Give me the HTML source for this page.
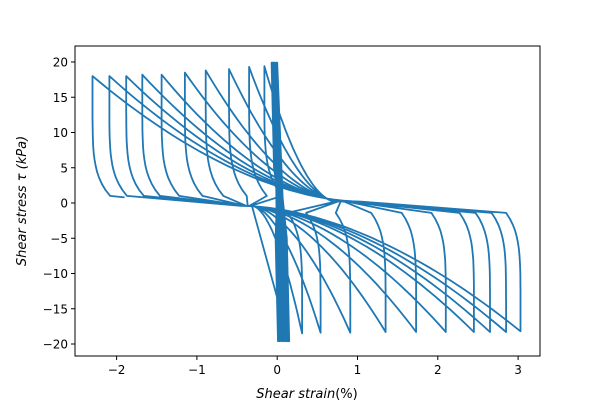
<!DOCTYPE html>
<html><head><meta charset="utf-8"><style>
body{margin:0;background:#fff;}
svg{display:block;font-family:"DejaVu Sans","Liberation Sans",sans-serif;}
</style></head><body>
<svg id="chart" width="600" height="400">
<rect x="0" y="0" width="600" height="400" fill="#fff"/>
<g id="plot"></g>
<g id="axes"></g>
</svg>
<script>
// Data
const peakStrains = [-0.16,-0.35,-0.60,-0.89,-1.15,-1.44,-1.68,-1.88,-2.09,-2.30];
const peakStress = [19.4,19.3,19.0,18.8,18.5,18.2,18.2,18.0,18.0,18.0];
const troughStrains = [0.31,0.54,0.91,1.35,1.73,2.10,2.45,2.65,2.85,3.03];
const troughStress = [-18.5,-18.4,-18.4,-18.3,-18.3,-18.3,-18.3,-18.3,-18.3,-18.2];
const coreTop = [-0.02,-0.03,-0.04,-0.05,-0.06,-0.07,-0.05,-0.03,-0.01,0.0];
const coreBottom = [0.01,0.03,0.05,0.07,0.09,0.11,0.12,0.13,0.14,0.15];
const xTicks = [-2,-1,0,1,2,3];
const yTicks = [20,15,10,5,0,-5,-10,-15,-20];

const X0=75, X1=540, Y0=46, Y1=356;
function sx(v){return 277.2+v*80.3;}
function sy(v){return 203-v*7.05;}

const pts=[];
function add(x,y){pts.push([x,y]);}
// early small cycles (central band)
for(let i=0;i<coreTop.length;i++){
  add(coreTop[i],19.9);
  add(coreTop[i]+0.03,5);
  add(coreBottom[i]-0.03,-5);
  add(coreBottom[i],-19.6);
}
function dropFromPeak(a,P){
  for(let k=0;k<=20;k++){const t=k/20;const y=P-(P-1)*t;add(a+0.22*Math.pow(t,6),y);}
}
function diagToTrough(b,T){
  const xs=-0.3-0.05*b, ys=-0.4;
  for(let k=0;k<=30;k++){const t=k/30;add(xs+(b-xs)*t, ys+(T-ys)*Math.pow(t,1.8));}
}
function riseFromTrough(b,T){
  for(let k=0;k<=20;k++){const t=k/20;const y=T+(-1.4-T)*t;add(b-0.18*Math.pow(t,6),y);}
}
function diagToPeak(a,P){
  const xe=0.7+0.15*Math.abs(a), ye=0.2;
  for(let k=0;k<=30;k++){const t=k/30;add(xe+(a-xe)*t, ye+(P-ye)*Math.pow(t,1.8));}
}
// main cycles: trough then peak
for(let i=0;i<troughStrains.length;i++){
  diagToTrough(troughStrains[i],troughStress[i]);
  riseFromTrough(troughStrains[i],troughStress[i]);
  diagToPeak(peakStrains[i],peakStress[i]);
  dropFromPeak(peakStrains[i],peakStress[i]);
  if(i===troughStrains.length-1){add(-1.9,0.8);}
}
const plot=document.getElementById('plot');
const line=document.createElementNS('http://www.w3.org/2000/svg','polyline');
line.setAttribute('points',pts.map(p=>sx(p[0]).toFixed(1)+','+sy(p[1]).toFixed(1)).join(' '));
line.setAttribute('fill','none');line.setAttribute('stroke','#1f77b4');line.setAttribute('stroke-width','1.8');
line.setAttribute('stroke-linejoin','round');


plot.appendChild(line);
const ax=document.getElementById('axes');
const NS='http://www.w3.org/2000/svg';
const frame=document.createElementNS(NS,'rect');
frame.setAttribute('x',X0);frame.setAttribute('y',Y0);frame.setAttribute('width',X1-X0);frame.setAttribute('height',Y1-Y0);
frame.setAttribute('fill','none');frame.setAttribute('stroke','#000');frame.setAttribute('stroke-width','1');


ax.appendChild(frame);
xTicks.forEach(v=>{
  const x=sx(v);
  const t=document.createElementNS(NS,'line');
  t.setAttribute('x1',x);t.setAttribute('x2',x);t.setAttribute('y1',Y1);t.setAttribute('y2',Y1+4);t.setAttribute('stroke','#000');
  
  
  ax.appendChild(t);
  const l=document.createElementNS(NS,'text');
  l.setAttribute('x',x);l.setAttribute('y',Y1+18);l.setAttribute('text-anchor','middle');l.setAttribute('font-size','12');
  l.textContent=(v<0?'\u2212'+(-v):''+v);
  
  
  ax.appendChild(l);
});
yTicks.forEach(v=>{
  const y=sy(v);
  const t=document.createElementNS(NS,'line');
  t.setAttribute('x1',X0-4);t.setAttribute('x2',X0);t.setAttribute('y1',y);t.setAttribute('y2',y);t.setAttribute('stroke','#000');
  
  
  ax.appendChild(t);
  const l=document.createElementNS(NS,'text');
  l.setAttribute('x',X0-7);l.setAttribute('y',y+4.5);l.setAttribute('text-anchor','end');l.setAttribute('font-size','12');
  l.textContent=(v<0?'\u2212'+(-v):''+v);
  
  
  ax.appendChild(l);
});
</script>
<svg style="position:absolute;left:0;top:0" width="600" height="400">
<text x="307" y="398" text-anchor="middle" font-size="13" font-family="DejaVu Sans, Liberation Sans, sans-serif"><tspan font-style="italic">Shear strain</tspan>(%)</text>
<text transform="translate(26,201) rotate(-90)" text-anchor="middle" font-size="13" font-family="DejaVu Sans, Liberation Sans, sans-serif"><tspan font-style="italic">Shear stress τ (kPa)</tspan></text>
</svg>
</body></html>
